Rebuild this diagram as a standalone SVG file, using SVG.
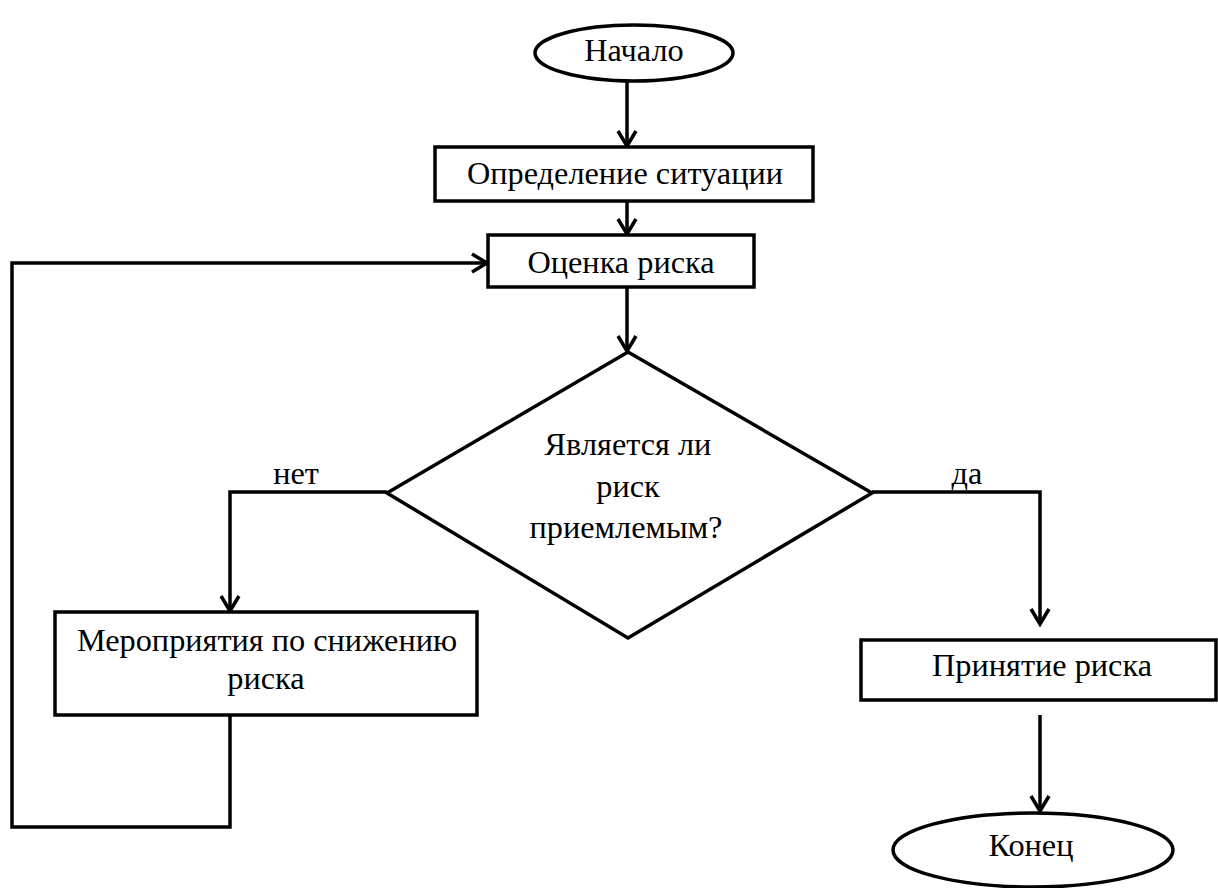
<svg xmlns="http://www.w3.org/2000/svg" width="1218" height="888" viewBox="0 0 1218 888">
<style>
.shape{fill:#fff;stroke:#000;stroke-width:3.5}
.conn{fill:none;stroke:#000;stroke-width:3.5;stroke-linejoin:miter}
.t{font-family:"Liberation Serif","Times New Roman",serif;font-size:32.3px;fill:#000;text-anchor:middle}
</style>
<defs>
<marker id="arr" markerUnits="userSpaceOnUse" markerWidth="30" markerHeight="30" viewBox="-20 -15 30 30" refX="0" refY="0" orient="auto" overflow="visible">
<path d="M -15 -9 L 0 0 L -15 9" fill="none" stroke="#000" stroke-width="3.5"/>
</marker>
</defs>
<rect width="1218" height="888" fill="#fff"/>
<g id="connectors">
<path class="conn" d="M627 82 V146" marker-end="url(#arr)"/>
<path class="conn" d="M627 201 V234" marker-end="url(#arr)"/>
<path class="conn" d="M627 287 V351" marker-end="url(#arr)"/>
<path class="conn" d="M387 492 H230 V611" marker-end="url(#arr)"/>
<path class="conn" d="M872 492 H1040 V624" marker-end="url(#arr)"/>
<path class="conn" d="M1040 715 V811" marker-end="url(#arr)"/>
<path class="conn" d="M230 715 V827 H12 V263 H487" marker-end="url(#arr)"/>
<text class="t" x="296" y="484">нет</text>
<text class="t" x="967" y="484">да</text>
</g>
<g id="start">
<ellipse class="shape" cx="634" cy="53" rx="99" ry="28"/>
<text class="t" x="634" y="61">Начало</text>
</g>
<g id="define">
<rect class="shape" x="435" y="147" width="378" height="54"/>
<text class="t" x="625" y="184">Определение ситуации</text>
</g>
<g id="assess">
<rect class="shape" x="488" y="235" width="266" height="52"/>
<text class="t" x="621" y="273">Оценка риска</text>
</g>
<g id="decision">
<polygon class="shape" points="628,352 872,493 628,638 387,493"/>
<text class="t" x="628" y="455">Является ли</text>
<text class="t" x="628" y="497">риск</text>
<text class="t" x="626" y="538">приемлемым?</text>
</g>
<g id="mitigate">
<rect class="shape" x="55" y="612" width="422" height="103"/>
<text class="t" x="267" y="651">Мероприятия по снижению</text>
<text class="t" x="266" y="689">риска</text>
</g>
<g id="accept">
<rect class="shape" x="861" y="640" width="355" height="60"/>
<text class="t" x="1042" y="676">Принятие риска</text>
</g>
<g id="end">
<ellipse class="shape" cx="1033" cy="850" rx="140" ry="37"/>
<text class="t" x="1031" y="856">Конец</text>
</g>
</svg>
